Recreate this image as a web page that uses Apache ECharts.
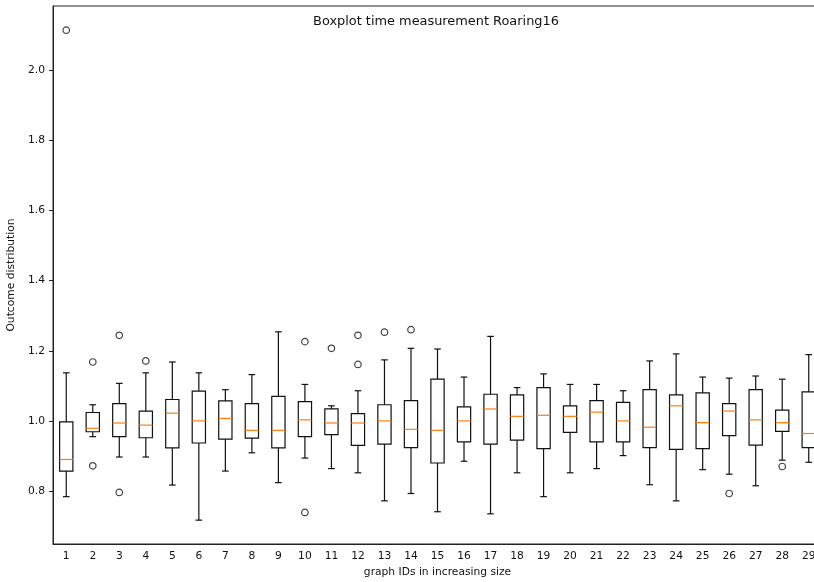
<!DOCTYPE html>
<html>
<head>
<meta charset="utf-8">
<script src="https://cdn.jsdelivr.net/npm/echarts@6.0.0/dist/echarts.min.js"></script>
<style>
  html, body { margin: 0; padding: 0; background: #fff; }
  #chart { width: 814px; height: 582px; }
</style>
</head>
<body>
<div id="chart"></div>
<script>
// Categorías (IDs de grafos)
const categories = ['1', '2', '3', '4', '5', '6', '7', '8', '9', '10',
    '11', '12', '13', '14', '15', '16', '17', '18', '19', '20',
    '21', '22', '23', '24', '25', '26', '27', '28', '29'];

// Estadísticas de cada caja
const lowWhisker = [0.784, 0.955, 0.897, 0.897, 0.817, 0.717, 0.857, 0.909, 0.824, 0.894,
    0.864, 0.852, 0.772, 0.793, 0.741, 0.885, 0.735, 0.852, 0.784, 0.852,
    0.864, 0.901, 0.818, 0.772, 0.861, 0.848, 0.815, 0.888, 0.882];
const q1 = [0.857, 0.969, 0.955, 0.952, 0.923, 0.937, 0.948, 0.951, 0.923, 0.955,
    0.961, 0.930, 0.934, 0.924, 0.880, 0.940, 0.934, 0.945, 0.921, 0.967,
    0.940, 0.940, 0.924, 0.919, 0.921, 0.958, 0.931, 0.970, 0.924];
const median = [0.890, 0.979, 0.994, 0.988, 1.022, 1.000, 1.007, 0.973, 0.973, 1.003,
    0.994, 0.994, 1.000, 0.976, 0.973, 1.000, 1.034, 1.013, 1.016, 1.013,
    1.025, 1.000, 0.982, 1.043, 0.995, 1.028, 1.003, 0.995, 0.964];
const q3 = [0.997, 1.024, 1.049, 1.028, 1.061, 1.085, 1.057, 1.049, 1.070, 1.055,
    1.034, 1.021, 1.046, 1.058, 1.119, 1.040, 1.076, 1.074, 1.095, 1.043,
    1.058, 1.053, 1.089, 1.074, 1.080, 1.049, 1.089, 1.031, 1.083];
const highWhisker = [1.137, 1.046, 1.107, 1.137, 1.168, 1.137, 1.089, 1.132, 1.254, 1.104,
    1.043, 1.086, 1.174, 1.207, 1.205, 1.125, 1.241, 1.095, 1.134, 1.104,
    1.104, 1.086, 1.171, 1.191, 1.125, 1.122, 1.128, 1.119, 1.189];

// Valores atípicos
const outlierCats = ['1', '2', '2', '3', '3', '4', '10', '10', '11', '12', '12', '13', '14', '26', '28'];
const outlierValues = [2.114, 1.168, 0.872, 1.244, 0.796, 1.171, 1.226, 0.739, 1.207, 1.244, 1.161, 1.253, 1.260, 0.793, 0.870];

// Marcas del eje Y
const yTicks = [0.8, 1.0, 1.2, 1.4, 1.6, 1.8, 2.0];

const chart = echarts.init(document.getElementById('chart'), null, { renderer: 'canvas' });

const boxData = categories.map((c, i) => [i, lowWhisker[i], q1[i], median[i], q3[i], highWhisker[i]]);
const outlierData = outlierCats.map((c, i) => [categories.indexOf(c), outlierValues[i]]);

// Dibujar una caja al estilo matplotlib
function renderBox(params, api) {
    const i = api.value(0);
    const band = api.size([1, 0])[0];
    const half = band * 0.25;
    const cap = band * 0.125;
    const pLow = api.coord([i, api.value(1)]);
    const pQ1 = api.coord([i, api.value(2)]);
    const pMed = api.coord([i, api.value(3)]);
    const pQ3 = api.coord([i, api.value(4)]);
    const pHigh = api.coord([i, api.value(5)]);
    const x = pLow[0];
    const black = { stroke: '#111', lineWidth: 1.2 };
    return {
        type: 'group',
        children: [
            { type: 'line', shape: { x1: x, y1: pQ1[1], x2: x, y2: pLow[1] }, style: black },
            { type: 'line', shape: { x1: x, y1: pQ3[1], x2: x, y2: pHigh[1] }, style: black },
            { type: 'line', shape: { x1: x - cap, y1: pLow[1], x2: x + cap, y2: pLow[1] }, style: black },
            { type: 'line', shape: { x1: x - cap, y1: pHigh[1], x2: x + cap, y2: pHigh[1] }, style: black },
            { type: 'rect', shape: { x: x - half, y: pQ3[1], width: half * 2, height: pQ1[1] - pQ3[1] },
              style: { fill: 'none', stroke: '#111', lineWidth: 1.2 } },
            { type: 'line', shape: { x1: x - half, y1: pMed[1], x2: x + half, y2: pMed[1] },
              style: { stroke: '#ff7f0e', lineWidth: 1.2 } }
        ]
    };
}

const font = 'DejaVu Sans';
const labelSize = 10.7;

const option = {
    animation: false,
    backgroundColor: '#fff',
    grid: {
        left: 53,
        top: 6,
        width: 769,
        height: 538,
        show: true,
        borderColor: '#222',
        borderWidth: 1,
        backgroundColor: 'transparent',
        outerBoundsMode: 'none'
    },
    graphic: [{
        type: 'text',
        x: 436,
        y: 22,
        style: {
            text: 'Boxplot time measurement Roaring16',
            font: '12.9px "DejaVu Sans"',
            fill: '#111',
            textAlign: 'center',
            textVerticalAlign: 'middle'
        }
    }],
    xAxis: {
        type: 'category',
        data: categories,
        boundaryGap: true,
        name: 'graph IDs in increasing size',
        nameLocation: 'middle',
        nameGap: 23,
        nameTextStyle: { fontFamily: font, fontSize: labelSize, color: '#111' },
        axisLine: { lineStyle: { color: '#222', width: 1 } },
        axisTick: { alignWithLabel: true, length: 4, lineStyle: { color: '#222' } },
        axisLabel: { fontFamily: font, fontSize: labelSize, color: '#111', margin: 7, interval: 0 },
        splitLine: { show: false }
    },
    yAxis: {
        type: 'value',
        min: 0.649,
        max: 2.183,
        name: 'Outcome distribution',
        nameLocation: 'middle',
        nameGap: 32,
        nameTextStyle: { fontFamily: font, fontSize: labelSize, color: '#111' },
        axisLine: { show: true, lineStyle: { color: '#222', width: 1 } },
        axisTick: { show: true, length: 4, customValues: yTicks, lineStyle: { color: '#222' } },
        axisLabel: {
            fontFamily: font, fontSize: labelSize, color: '#111', margin: 8,
            customValues: yTicks,
            formatter: v => v.toFixed(1)
        },
        splitLine: { show: false }
    },
    series: [
        {
            type: 'custom',
            renderItem: renderBox,
            data: boxData,
            encode: { x: 0, y: [1, 2, 3, 4, 5] },
            z: 2
        },
        {
            type: 'scatter',
            data: outlierData,
            symbol: 'circle',
            symbolSize: 6.5,
            itemStyle: { color: 'rgba(0,0,0,0)', borderColor: '#111', borderWidth: 1.2 },
            z: 3
        }
    ]
};

chart.setOption(option);
</script>
</body>
</html>
